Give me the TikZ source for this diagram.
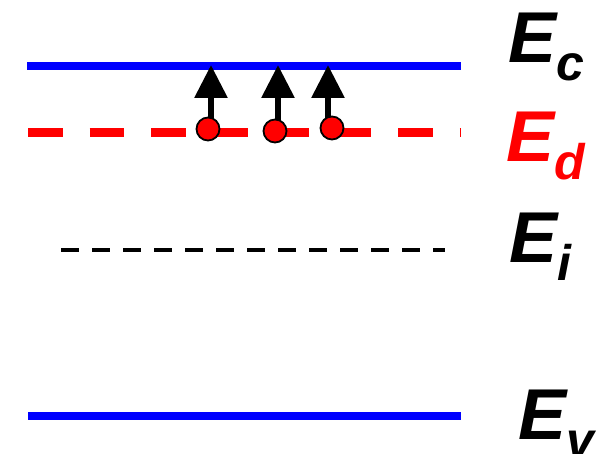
\documentclass[tikz,border=0pt]{standalone}
\usepackage{fontspec}
\setmainfont{Liberation Sans}
\usetikzlibrary{arrows.meta}
\definecolor{bandblue}{HTML}{0000FF}
\definecolor{donorred}{HTML}{FF0000}
% lowered subscript for the level names
\newcommand{\lvlsub}[1]{\raisebox{-0.24em}{\fontsize{50}{50}\selectfont #1}}

\begin{document}
\begin{tikzpicture}[
  x=1pt, y=1pt,
  band/.style={bandblue, line width=8.5pt},
  kick/.style={line width=6pt, -{Triangle[length=33pt, width=32pt]}},
  electron/.style={circle, draw=black, line width=1.8pt, fill=donorred,
                   minimum size=23pt, inner sep=0pt},
  lvllabel/.style={anchor=base west, inner sep=0pt,
                   font=\fontsize{72}{80}\selectfont\bfseries\itshape},
]
\useasboundingbox (0,0) rectangle (597,454);

% ============ Band edges ============
\draw[band] (27,388) -- (461,388);
\draw[band] (28,38) -- (461,38);

% Donor level
\draw[donorred, line width=9pt, dash pattern=on 34.5pt off 27.2pt] (28,321.5) -- (461,321.5);

% Intrinsic level
\draw[black, line width=4pt, dash pattern=on 18pt off 13pt] (61,204) -- (445,204);

% Ionised donors: electrons lifted to the conduction band
\foreach \n/\ex/\ey/\ax in {1/208/325/211, 2/275/323/278, 3/332/326/328}{
  \coordinate (t\n) at (\ax,389);
  \coordinate (c\n) at (\ex,\ey);
  \draw[kick] (t\n |- c\n) -- (t\n);
  \node[electron] (e\n) at (c\n) {};
}

% Level names
\node[lvllabel] (Ec) at (508,391) {E\lvlsub{c}};
\node[lvllabel, text=donorred] (Ed) at (506,292) {E\lvlsub{d}};
\node[lvllabel] (Ei) at (509,191) {E\lvlsub{i}};
\node[lvllabel] (Ev) at (518,14) {E\lvlsub{v}};

\end{tikzpicture}
\end{document}
